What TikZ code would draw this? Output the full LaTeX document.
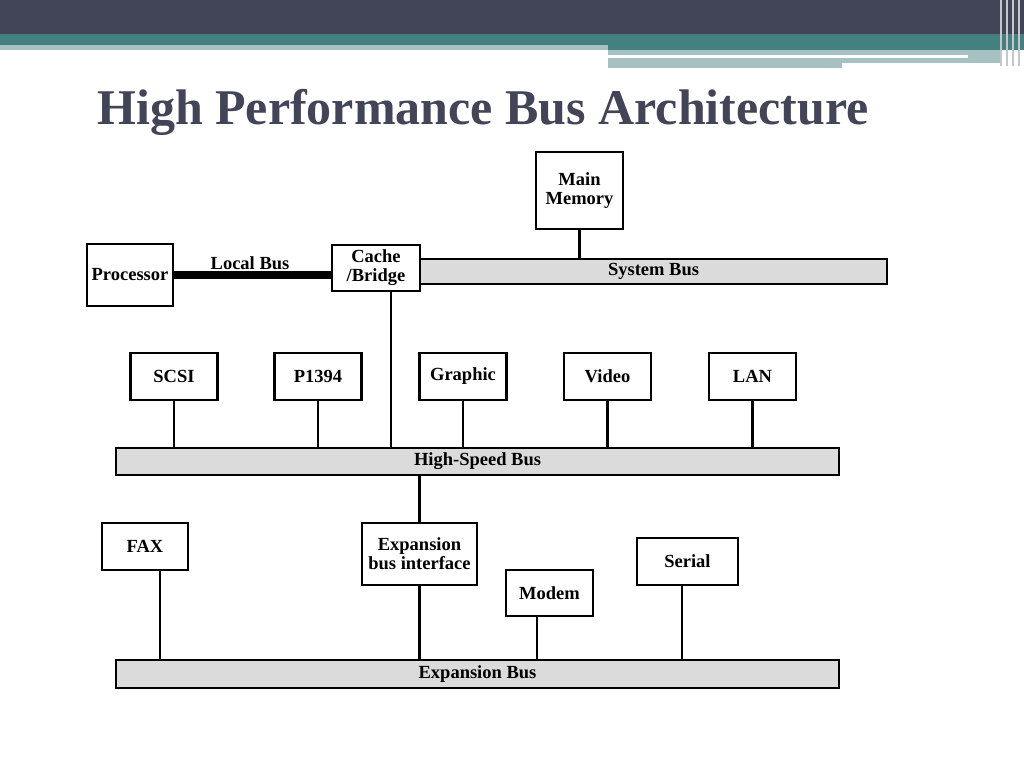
\documentclass[tikz,border=0pt]{standalone}
\usepackage{fontspec}
\setmainfont{Liberation Serif}
\begin{document}
\begin{tikzpicture}[x=1pt,y=-1pt,
  box/.style={draw,line width=2.4pt,fill=white,font=\bfseries\fontsize{18.5}{19}\selectfont,align=center,inner sep=0pt},
  bus/.style={draw,line width=2.4pt,fill=black!14,font=\bfseries\fontsize{18.5}{19}\selectfont,inner sep=0pt},
  wire/.style={line width=2.6pt}]
\definecolor{dk}{HTML}{424457}\definecolor{tl}{HTML}{44807F}\definecolor{lt}{HTML}{A7C0C2}
\useasboundingbox (0,0) rectangle (1024,768);
\fill[dk] (0,0) rectangle (1024,34);
\fill[tl] (0,34) rectangle (1024,45);
\fill[tl] (608,45) rectangle (1024,50);
\fill[lt] (0,45) rectangle (608,50);
\fill[lt] (608,50) rectangle (1000,68);
\fill[white] (608,55) rectangle (968,58);
\fill[white] (842,63) rectangle (1000,68);
\foreach \x in {1000,1006,1012,1018} \fill[white!70!dk] (\x,0) rectangle (\x+2,66);
\node[anchor=base west,text=dk,font=\bfseries\fontsize{50}{54}\selectfont,inner sep=0pt] (title) at (97,124) {High Performance Bus Architecture};
% boxes
\node[box,minimum width=87pt,minimum height=77pt] (mem) at (579.5,190.5) {Main\\Memory};
\node[box,minimum width=86pt,minimum height=62pt] (proc) at (130,275) {Processor};
\node[bus,minimum width=467pt,minimum height=25pt] (sys) at (653.5,271.5) {System Bus};
\node[box,minimum width=88pt,minimum height=46pt] (cache) at (376,268) {Cache\\/Bridge};
\node[bus,minimum width=723pt,minimum height=27pt] (hs) at (477.5,461.5) {High-Speed Bus};
\node[bus,minimum width=723pt,minimum height=28pt] (exp) at (477.5,674) {Expansion Bus};
\foreach \n/\t/\x in {scsi/SCSI/174,p/P1394/318,gr/Graphic/463,vid/Video/607.5,lan/LAN/752.5}
  \node[box,minimum width=87pt,minimum height=47pt] (\n) at (\x,376.5) {\t};
\node[box,minimum width=86pt,minimum height=47pt] (fax) at (145,546.5) {FAX};
\node[box,minimum width=115pt,minimum height=62pt] (ebi) at (419.5,554) {Expansion\\bus interface};
\node[box,minimum width=87pt,minimum height=46pt] (modem) at (549.5,593) {Modem};
\node[box,minimum width=101pt,minimum height=47pt] (serial) at (687.5,561.5) {Serial};
% connectors
\draw[line width=8pt] (proc.east) -- (cache.west |- proc.east) coordinate (lb);
\node[font=\bfseries\fontsize{18.5}{19}\selectfont,inner sep=0pt] (lbl) at (250,263) {Local Bus};
\draw[wire] (mem.south) -- (mem.south |- sys.north);
\draw[wire] (391,291) coordinate (c1) -- (c1 |- hs.north);
\foreach \n in {scsi,p,gr,vid,lan} \draw[wire] (\n.south) -- (\n.south |- hs.north);
\draw[wire] (ebi.north) -- (ebi.north |- hs.south);
\draw[wire] (ebi.south) -- (ebi.south |- exp.north);
\draw[wire] (fax.south -| 160,0) coordinate (f1) -- (f1 |- exp.north);
\draw[wire] (modem.south -| 537,0) coordinate (m1) -- (m1 |- exp.north);
\draw[wire] (serial.south -| 682,0) coordinate (s1) -- (s1 |- exp.north);
\end{tikzpicture}
\end{document}
